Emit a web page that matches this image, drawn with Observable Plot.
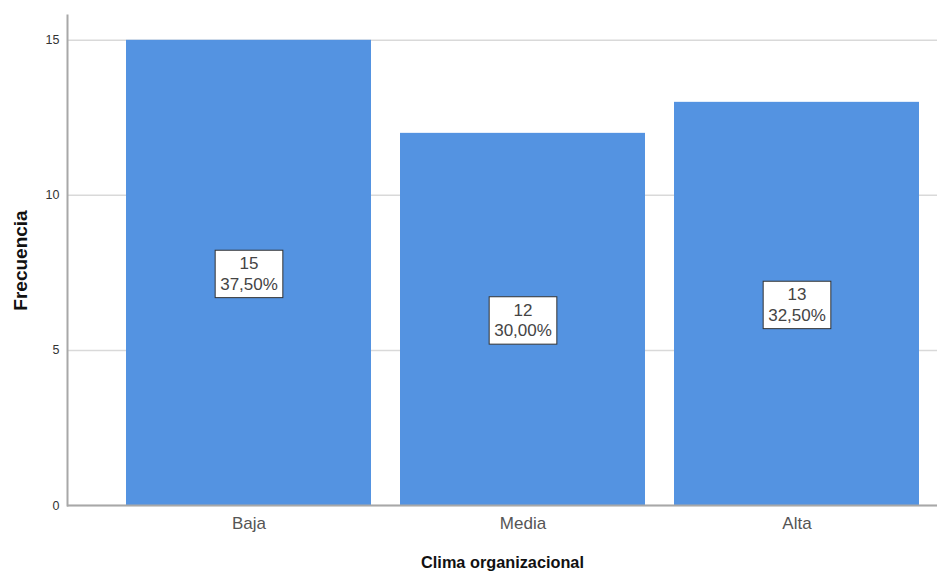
<!DOCTYPE html>
<html>
<head>
<meta charset="utf-8">
<script src="https://cdn.jsdelivr.net/npm/d3@7"></script>
<script src="https://cdn.jsdelivr.net/npm/@observablehq/plot@0.6"></script>
<style>
  body { margin: 0; background: #fff; }
  svg { font-family: "Liberation Sans", Arial, sans-serif; }
</style>
</head>
<body>
<div id="chart"></div>
<script>
const categories = ["Baja", "Media", "Alta"];
const counts = [15, 12, 13];
const percents = ["37,50%", "30,00%", "32,50%"];
const yTicks = [0, 5, 10, 15];
const xTitle = "Clima organizacional";
const yTitle = "Frecuencia";

const data = categories.map((c, i) => ({cat: c, n: counts[i], pct: percents[i], label: counts[i] + "\n" + percents[i]}));

const chart = Plot.plot({
  width: 937,
  height: 574,
  marginLeft: 67,
  marginRight: 0,
  marginTop: 15,
  marginBottom: 69,
  style: {fontFamily: "'Liberation Sans', Arial, sans-serif", background: "#fff"},
  x: {domain: categories, paddingInner: 0.106, paddingOuter: 0.1405, align: 0.766, label: null},
  y: {domain: [0, 15.8], label: null},
  marks: [
    Plot.gridY(yTicks, {stroke: "#d9d9d9", strokeOpacity: 1, strokeWidth: 1.5}),
    Plot.barY(data, {x: "cat", y: "n", fill: "#5493e1"}),
    Plot.frame({anchor: "left", stroke: "#a8a8a8", strokeWidth: 2}),
    Plot.ruleY([0], {stroke: "#a8a8a8", strokeWidth: 2}),
    Plot.axisY(yTicks, {tickSize: 0, tickPadding: 8, fontSize: 12.5, fill: "#333", label: null}),
    Plot.axisX({tickSize: 0, tickPadding: 11, fontSize: 17, fill: "#555", label: null}),
    Plot.text(data, {x: "cat", y: d => d.n / 2, text: "label", fontSize: 17, fill: "#444", lineHeight: 1.2, className: "boxlabel"}),
    Plot.text([xTitle], {frameAnchor: "bottom", dy: 62, fontSize: 16.3, fontWeight: "bold", fill: "#111"}),
    Plot.text([yTitle], {frameAnchor: "left", dx: -47, rotate: -90, textAnchor: "middle", fontSize: 19, fontWeight: "bold", fill: "#111"})
  ]
});

document.getElementById("chart").appendChild(chart);

// draw white boxes with border behind each value label
chart.querySelectorAll("g.boxlabel > text, .boxlabel text").forEach(t => {
  const bb = t.getBBox();
  const r = document.createElementNS("http://www.w3.org/2000/svg", "rect");
  const padX = 5, padY = 4;
  r.setAttribute("x", bb.x - padX);
  r.setAttribute("y", bb.y - padY);
  r.setAttribute("width", bb.width + 2 * padX);
  r.setAttribute("height", bb.height + 2 * padY);
  r.setAttribute("fill", "#fff");
  r.setAttribute("stroke", "#333");
  r.setAttribute("stroke-width", "1");
  const tr = t.getAttribute("transform");
  if (tr) r.setAttribute("transform", tr);
  t.parentNode.insertBefore(r, t);
});
</script>
</body>
</html>
